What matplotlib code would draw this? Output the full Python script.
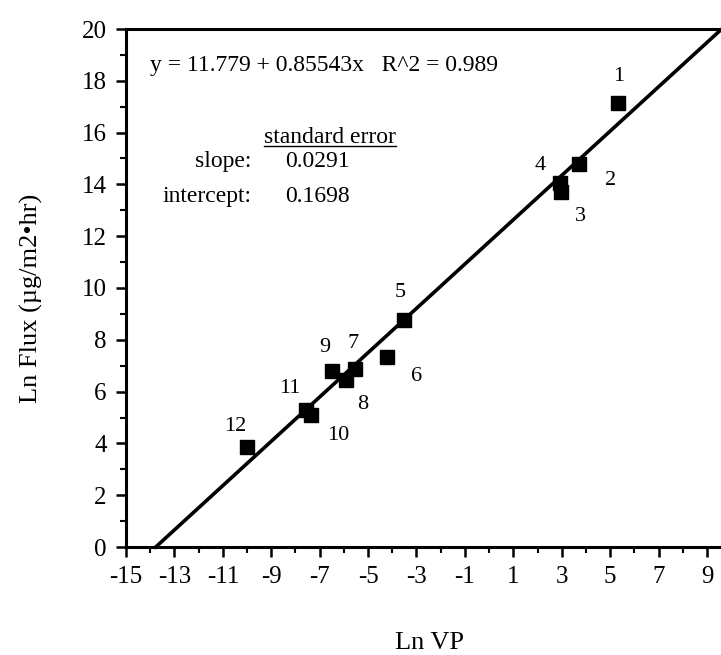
import matplotlib.pyplot as plt
from matplotlib.ticker import MultipleLocator

plt.rcParams["font.family"] = ["Liberation Serif", "DejaVu Serif"]
plt.rcParams["axes.unicode_minus"] = False

# Ln VP vs Ln Flux
point_ids = ["1", "2", "3", "4", "5", "6", "7", "8", "9", "10", "11", "12"]
ln_vp = [5.31, 3.73, 2.97, 2.92, -3.52, -4.23, -5.54, -5.93, -6.50, -7.35, -7.55, -10.00]
ln_flux = [17.13, 14.78, 13.72, 14.07, 8.76, 7.32, 6.86, 6.45, 6.80, 5.10, 5.28, 3.85]

# Regression results printed on the chart
fit_intercept = 11.779
fit_slope = 0.85543
r_squared = 0.989
se_slope = 0.0291
se_intercept = 0.1698

x_ticks = list(range(-15, 10, 2))
y_ticks = list(range(0, 21, 2))

# Where each point's number sits, offset in pixels from the marker
LABEL_OFFSETS = {
    "1": (1, 27), "2": (31, -16), "3": (19, -25), "4": (-20, 17),
    "5": (-4, 28), "6": (30, -19), "7": (-2, 26), "8": (17, -25),
    "9": (-7, 23), "10": (27, -21), "11": (-17, 22), "12": (-12, 21),
}

TEXT_SIZE = 17
TICK_SIZE = 18

fig = plt.figure(figsize=(7.21, 6.55), dpi=100)
ax = fig.add_axes([126 / 721, 1 - 547 / 655, 594.5 / 721, 518 / 655])

x_right = 9.56
ax.set_xlim(-15, x_right)
ax.set_ylim(0, 20)

# Fitted line, from where it crosses zero to the right edge
x_start = -fit_intercept / fit_slope
ax.plot([x_start, x_right],
        [fit_intercept + fit_slope * x_start, fit_intercept + fit_slope * x_right],
        color="black", linewidth=2.6, zorder=2, clip_on=False)

ax.plot(ln_vp, ln_flux, linestyle="none", marker="s", markersize=10.5,
        color="black", zorder=3)

for pid, xv, yv in zip(point_ids, ln_vp, ln_flux):
    dx, dy = LABEL_OFFSETS[pid]
    ax.annotate(pid, (xv, yv), xytext=(dx, dy), textcoords="offset pixels",
                ha="center", va="center", fontsize=16)

ax.set_xticks(x_ticks)
ax.set_yticks(y_ticks)
ax.xaxis.set_minor_locator(MultipleLocator(1))
ax.yaxis.set_minor_locator(MultipleLocator(1))
ax.tick_params(which="major", direction="out", length=7, width=1.8,
               labelsize=TICK_SIZE, pad=7)
ax.tick_params(which="minor", direction="out", length=4, width=1.5)

ax.spines["right"].set_visible(False)
for side in ["left", "bottom", "top"]:
    ax.spines[side].set_linewidth(2.2)

ax.set_xlabel("Ln VP", fontsize=19)
ax.set_ylabel("Ln Flux (\u00b5g/m2\u2022hr)", fontsize=19)
ax.xaxis.set_label_coords(0.511, -0.165)
ax.yaxis.set_label_coords(-0.14, 0.48)

ax.text(-14.0, 18.6, f"y = {fit_intercept} + {fit_slope}x   R^2 = {r_squared}",
        ha="left", va="center", fontsize=TEXT_SIZE)

head = ax.text(-6.57, 15.8, "standard error", ha="center", va="center",
               fontsize=TEXT_SIZE)
ax.text(-9.81, 14.88, "slope:", ha="right", va="center", fontsize=TEXT_SIZE)
ax.text(-8.43, 14.88, f"{se_slope}", ha="left", va="center", fontsize=TEXT_SIZE)
ax.text(-9.81, 13.53, "intercept:", ha="right", va="center", fontsize=TEXT_SIZE)
ax.text(-8.43, 13.53, f"{se_intercept}", ha="left", va="center", fontsize=TEXT_SIZE)

# underline under "standard error"
fig.canvas.draw()
bb = head.get_window_extent().transformed(ax.transData.inverted())
ax.plot([bb.x0, bb.x1], [bb.y0 + 0.08, bb.y0 + 0.08], color="black",
        linewidth=1.0)

fig.savefig("out.png", dpi=100)
